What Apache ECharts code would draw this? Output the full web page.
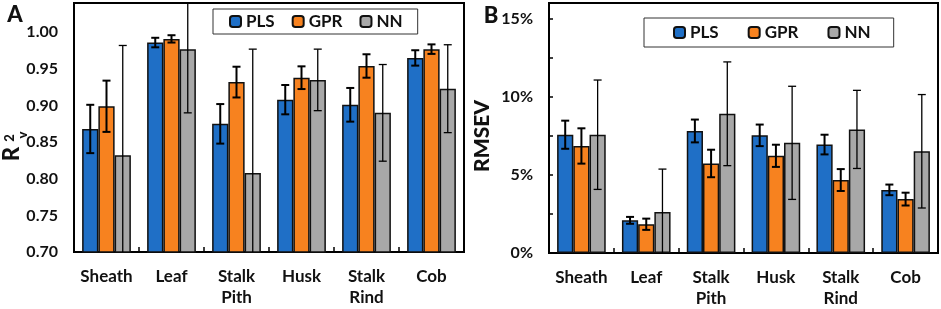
<!DOCTYPE html>
<html>
<head>
<meta charset="utf-8">
<script src="https://cdn.jsdelivr.net/npm/echarts@6/dist/echarts.min.js"></script>
<style>
  html, body { margin: 0; padding: 0; background: #fff; }
  #chart { width: 941px; height: 309px; }
</style>
</head>
<body>
<div id="chart"></div>
<script>
// categories
const categories = ['Sheath', 'Leaf', 'Stalk\nPith', 'Husk', 'Stalk\nRind', 'Cob']
const models = ['PLS', 'GPR', 'NN']

// panel A: R2v (mean, error)
const r2Pls = [0.868, 0.986, 0.875, 0.908, 0.901, 0.965]
const r2PlsErr = [0.033, 0.0065, 0.027, 0.020, 0.023, 0.0105]
const r2Gpr = [0.899, 0.991, 0.932, 0.938, 0.954, 0.977]
const r2GprErr = [0.035, 0.005, 0.021, 0.0155, 0.016, 0.0065]
const r2Nn = [0.832, 0.977, 0.808, 0.935, 0.890, 0.923]
const r2NnErr = [0.150, 0.087, 0.169, 0.042, 0.066, 0.060]

// panel B: RMSEV in %
const rmsePls = [7.57, 2.09, 7.81, 7.53, 6.94, 4.04]
const rmsePlsErr = [0.90, 0.22, 0.73, 0.69, 0.63, 0.34]
const rmseGpr = [6.85, 1.84, 5.73, 6.22, 4.67, 3.45]
const rmseGprErr = [1.13, 0.36, 0.88, 0.71, 0.70, 0.41]
const rmseNn = [7.57, 2.62, 8.91, 7.05, 7.91, 6.51]
const rmseNnErr = [3.50, 2.75, 3.32, 3.62, 2.50, 3.63]

const colors = ['#1f6fc6', '#f7821f', '#a8a8a8']
const font = 'Lato'

const chart = echarts.init(document.getElementById('chart'))

// 误差线
const errorSeries = (name, k, means, errs, axisIdx, yMin, yMax, lw) => ({
  name: name + ' err',
  type: 'custom',
  xAxisIndex: axisIdx,
  yAxisIndex: axisIdx,
  z: 10,
  silent: true,
  data: means.map((v, i) => [i, v, errs[i]]),
  encode: { x: 0, y: 1 },
  renderItem: (params, api) => {
    const ci = api.value(0)
    const v = api.value(1)
    const e = api.value(2)
    const band = api.size([1, 0])[0]
    const barW = band * 0.75 / 3
    const x = api.coord([ci, v])[0] + (k - 1) * barW
    const hi = Math.min(v + e, yMax)
    const lo = Math.max(v - e, yMin)
    const yHi = api.coord([ci, hi])[1]
    const yLo = api.coord([ci, lo])[1]
    const style = { stroke: '#000', lineWidth: lw }
    const children = [{ type: 'line', shape: { x1: x, y1: yHi, x2: x, y2: yLo }, style }]
    if (v + e <= yMax) children.push({ type: 'line', shape: { x1: x - 4, y1: yHi, x2: x + 4, y2: yHi }, style })
    if (v - e >= yMin) children.push({ type: 'line', shape: { x1: x - 4, y1: yLo, x2: x + 4, y2: yLo }, style })
    return { type: 'group', children }
  }
})

const barSeries = (name, k, data, axisIdx) => ({
  name,
  type: 'bar',
  xAxisIndex: axisIdx,
  yAxisIndex: axisIdx,
  data,
  barGap: '0%',
  barCategoryGap: '25%',
  itemStyle: { color: colors[k], borderColor: '#111', borderWidth: 1.5 }
})

const xAxisBase = (gridIndex) => ({
  type: 'category',
  gridIndex,
  data: categories,
  axisLine: { lineStyle: { color: '#000', width: 2 } },
  axisTick: { show: true, inside: true, length: 5, lineStyle: { color: '#000', width: 1.5 } },
  axisLabel: {
    interval: 0, color: '#111', fontFamily: font, fontWeight: 'bold',
    fontSize: 17, lineHeight: 21, margin: 14
  }
})

const legendBase = {
  data: models,
  orient: 'horizontal',
  borderColor: '#333',
  borderWidth: 1,
  itemWidth: 11,
  itemHeight: 11,
  textStyle: { fontFamily: font, fontWeight: 'bold', fontSize: 17, color: '#111' }
}

const txt = (text, x, y, size, rot) => ({
  type: 'text', x, y, rotation: rot || 0,
  style: {
    text, fontFamily: font, fontWeight: 900, fontSize: size, fill: '#111',
    textAlign: 'center', textVerticalAlign: 'middle'
  }
})

const option = {
  animation: false,
  textStyle: { fontFamily: font },
  grid: [
    { left: 74, top: 3, width: 390, height: 249, show: true, borderColor: '#000', borderWidth: 2 },
    { left: 549, top: 3, width: 389, height: 252, show: true, borderColor: '#000', borderWidth: 2 }
  ],
  legend: [
    Object.assign({}, legendBase, { left: 213, top: 9, padding: [4, 15, 4, 16], itemGap: 17 }),
    Object.assign({}, legendBase, { left: 644, top: 18, padding: [6, 23, 6, 29], itemGap: 29 })
  ],
  xAxis: [xAxisBase(0), xAxisBase(1)],
  yAxis: [
    {
      type: 'value', gridIndex: 0, min: 0.70, max: 1.04, interval: 0.05,
      axisLine: { show: true, lineStyle: { color: '#000', width: 2 } },
      axisTick: { show: false },
      splitLine: { show: false },
      axisLabel: {
        showMaxLabel: false, margin: 16, color: '#111', fontFamily: font,
        fontWeight: 'bold', fontSize: 16,
        formatter: (v) => v.toFixed(2)
      }
    },
    {
      type: 'value', gridIndex: 1, min: 0, max: 16, interval: 2.5,
      axisLine: { show: true, lineStyle: { color: '#000', width: 2 } },
      axisTick: { show: true, inside: true, length: 4, lineStyle: { color: '#000', width: 1.5 } },
      splitLine: { show: false },
      axisLabel: {
        showMaxLabel: false, margin: 16, color: '#111', fontFamily: font,
        fontWeight: 'bold', fontSize: 16,
        formatter: (v) => (v % 5 === 0 ? v + '%' : '')
      }
    }
  ],
  graphic: [
    txt('A', 15, 15, 22),
    txt('B', 491, 16, 22),
    txt('R', 12, 154, 22, Math.PI / 2),
    txt('2', 10, 138, 13, Math.PI / 2),
    txt('v', 23, 135, 13, Math.PI / 2),
    txt('RMSEV', 482, 136, 21, Math.PI / 2)
  ],
  series: [
    barSeries('PLS', 0, r2Pls, 0),
    barSeries('GPR', 1, r2Gpr, 0),
    barSeries('NN', 2, r2Nn, 0),
    barSeries('PLS', 0, rmsePls, 1),
    barSeries('GPR', 1, rmseGpr, 1),
    barSeries('NN', 2, rmseNn, 1),
    errorSeries('PLS', 0, r2Pls, r2PlsErr, 0, 0.70, 1.04, 2),
    errorSeries('GPR', 1, r2Gpr, r2GprErr, 0, 0.70, 1.04, 2),
    errorSeries('NN', 2, r2Nn, r2NnErr, 0, 0.70, 1.04, 1.3),
    errorSeries('PLS', 0, rmsePls, rmsePlsErr, 1, 0, 16, 2),
    errorSeries('GPR', 1, rmseGpr, rmseGprErr, 1, 0, 16, 2),
    errorSeries('NN', 2, rmseNn, rmseNnErr, 1, 0, 16, 1.3)
  ]
}

chart.setOption(option)
</script>
</body>
</html>
